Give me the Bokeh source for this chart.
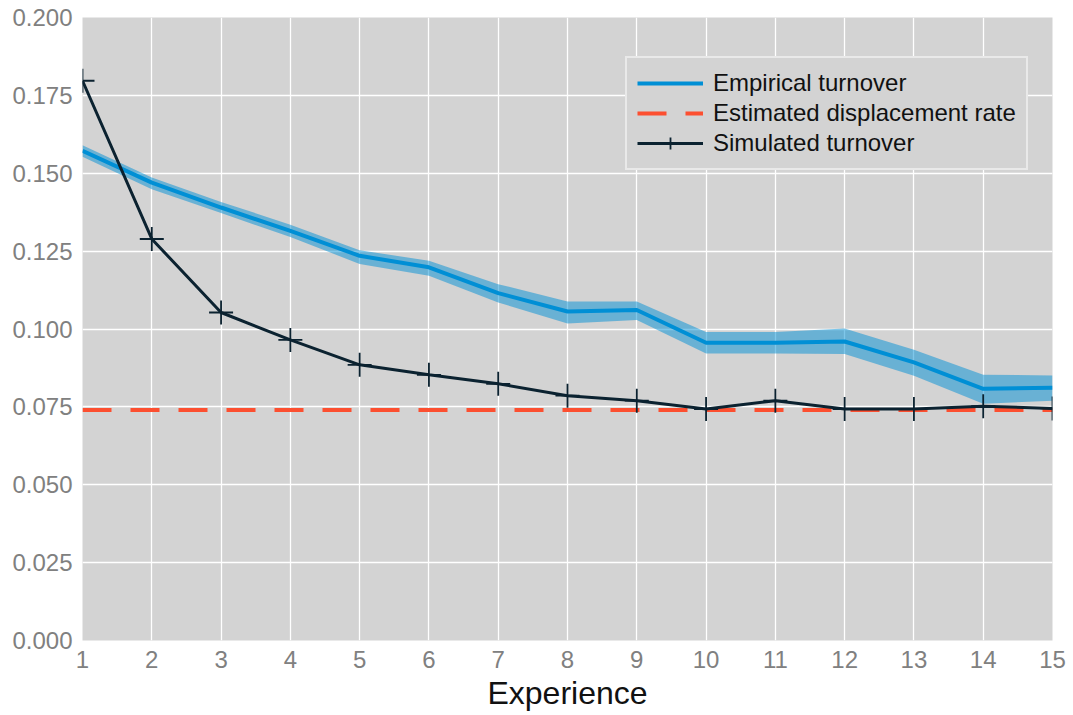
from bokeh.plotting import figure
from bokeh.models import ColumnDataSource, Legend, LegendItem, Range1d, FixedTicker, NumeralTickFormatter
from bokeh.embed import file_html
from bokeh.resources import INLINE

experience = list(range(1, 16))
empirical = [0.1572, 0.1470, 0.1390, 0.1315, 0.1235, 0.1198, 0.1115, 0.1056, 0.1061, 0.0956, 0.0956, 0.0960, 0.0893, 0.0808, 0.0811]
emp_upper = [0.1590, 0.1486, 0.1408, 0.1335, 0.1253, 0.1219, 0.1144, 0.1088, 0.1088, 0.0990, 0.0990, 0.1002, 0.0933, 0.0853, 0.0851]
emp_lower = [0.1553, 0.1449, 0.1372, 0.1295, 0.1209, 0.1171, 0.1085, 0.1018, 0.1029, 0.0921, 0.0921, 0.0920, 0.0850, 0.0760, 0.0770]
simulated = [0.1797, 0.1289, 0.1053, 0.0965, 0.0885, 0.0853, 0.0824, 0.0786, 0.0770, 0.0743, 0.0770, 0.0743, 0.0743, 0.0752, 0.0745]
displacement_rate = 0.0740
y_ticks = [0.0, 0.025, 0.05, 0.075, 0.1, 0.125, 0.15, 0.175, 0.2]

FONT = "Liberation Sans"

src = ColumnDataSource(dict(x=experience, emp=empirical, up=emp_upper, lo=emp_lower, sim=simulated,
                            disp=[displacement_rate] * len(experience)))

p = figure(width=1072, height=714, output_backend="svg", toolbar_location=None,
           x_range=Range1d(1, 15), y_range=Range1d(0, 0.2),
           min_border_left=82, min_border_right=20, min_border_top=17, min_border_bottom=74)

p.background_fill_color = "#d3d3d3"
p.border_fill_color = "white"
p.outline_line_color = None

p.xgrid.grid_line_color = "white"
p.ygrid.grid_line_color = "white"
p.xgrid.grid_line_width = 1.3
p.ygrid.grid_line_width = 1.3

p.xaxis.ticker = FixedTicker(ticks=experience)
p.yaxis.ticker = FixedTicker(ticks=y_ticks)
p.yaxis.formatter = NumeralTickFormatter(format="0.000")

for ax in (p.xaxis[0], p.yaxis[0]):
    ax.axis_line_color = None
    ax.major_tick_line_color = None
    ax.minor_tick_line_color = None
    ax.major_label_text_font = FONT
    ax.major_label_text_font_size = "24px"
    ax.major_label_text_color = "#808080"

p.yaxis.major_label_standoff = 4
p.xaxis.major_label_standoff = 4

p.xaxis.axis_label = "Experience"
p.xaxis.axis_label_text_font = FONT
p.xaxis.axis_label_text_font_size = "32px"
p.xaxis.axis_label_text_font_style = "normal"
p.xaxis.axis_label_text_color = "#111111"
p.xaxis.axis_label_standoff = 4

p.varea(x="x", y1="lo", y2="up", source=src, fill_color="#008fd5", fill_alpha=0.5)
r_emp = p.line(x="x", y="emp", source=src, line_color="#008fd5", line_width=4)
r_disp = p.line(x="x", y="disp", source=src, line_color="#fc4f30", line_width=4, line_dash="29 19")
r_sim = p.line(x="x", y="sim", source=src, line_color="#0b2230", line_width=3)
r_sim_m = p.scatter(x="x", y="sim", source=src, marker="cross", size=24, line_color="#0b2230", line_width=1.8)

legend = Legend(items=[
    LegendItem(label="Empirical turnover", renderers=[r_emp]),
    LegendItem(label="Estimated displacement rate", renderers=[r_disp]),
    LegendItem(label="Simulated turnover", renderers=[r_sim, r_sim_m]),
], location=(543, 470))
legend.label_text_font = FONT
legend.label_text_font_size = "24px"
legend.label_text_color = "#111111"
legend.background_fill_color = "#d3d3d3"
legend.background_fill_alpha = 1.0
legend.border_line_color = "white"
legend.border_line_width = 2
legend.glyph_width = 66
legend.glyph_height = 30
legend.label_height = 30
legend.label_standoff = 10
legend.spacing = 0
legend.padding = 10
legend.margin = 0
p.add_layout(legend, "center")

open("out.html", "w").write(file_html(p, INLINE))
